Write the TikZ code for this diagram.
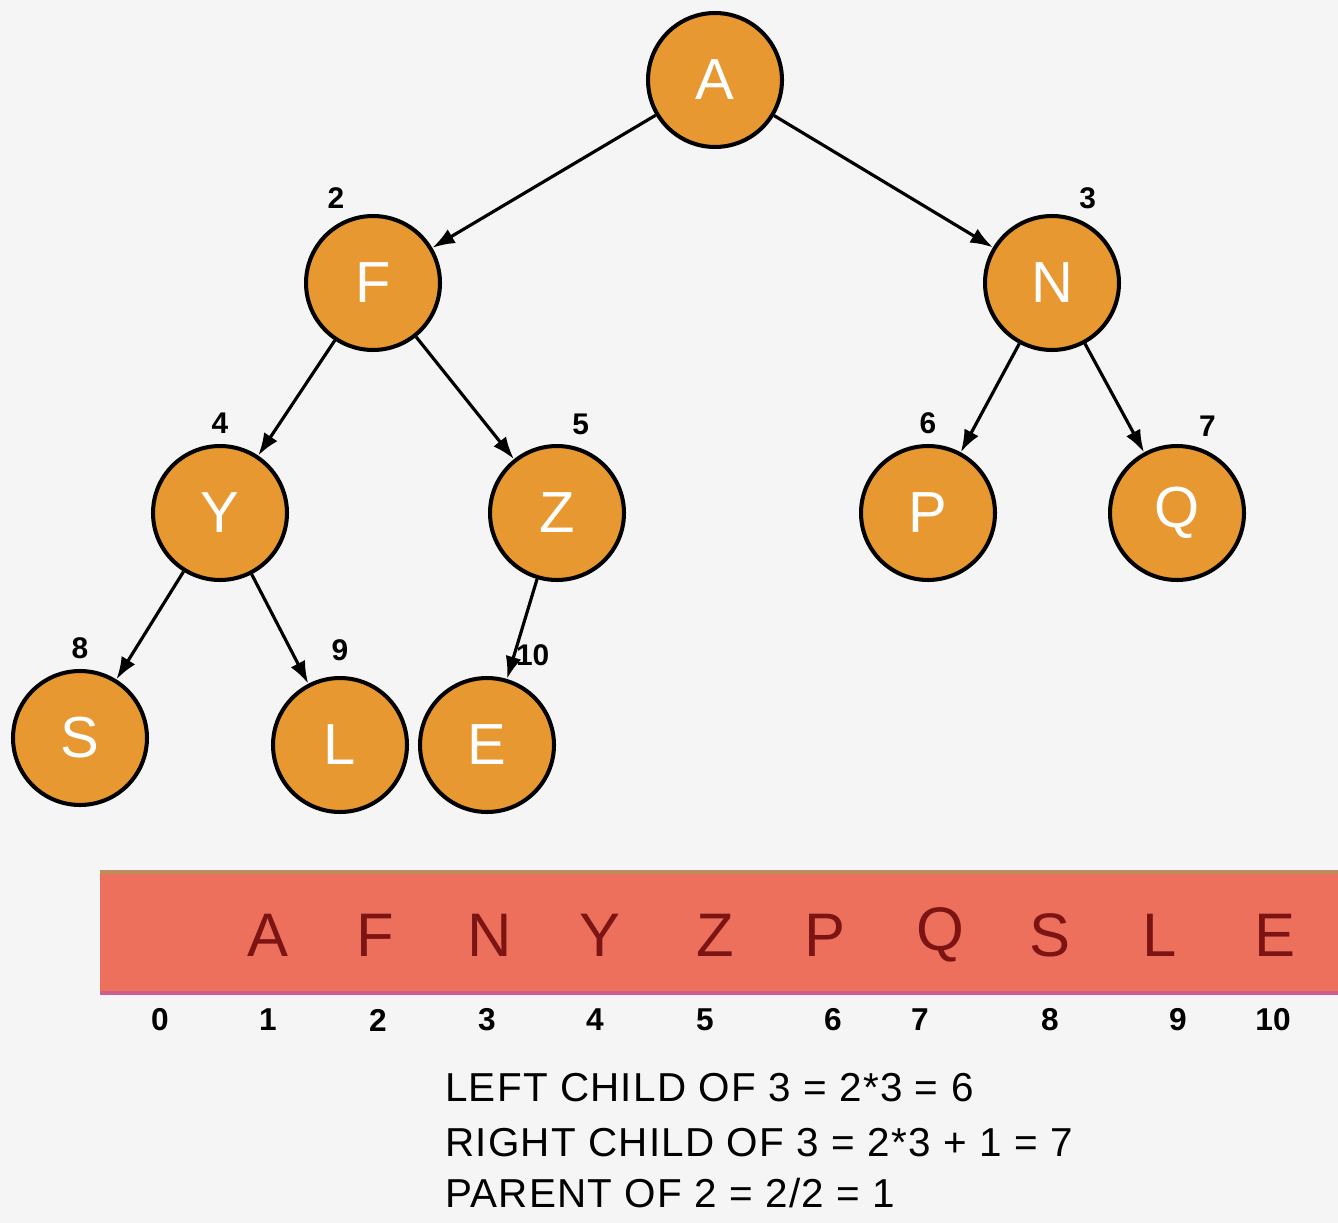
\documentclass[tikz,border=0pt]{standalone}
\usepackage{fontspec}
\setmainfont{Liberation Sans}
\newfontfamily\regelfont[LetterSpace=3]{Liberation Sans}
\usetikzlibrary{arrows.meta,positioning}

\definecolor{bund}{RGB}{245,245,245}
\definecolor{kugle}{RGB}{232,152,48}
\definecolor{balk}{RGB}{236,112,92}
\definecolor{balktop}{RGB}{190,140,95}
\definecolor{balkbund}{RGB}{205,95,140}
\definecolor{bogstav}{RGB}{125,20,20}

\begin{document}
\begin{tikzpicture}[
    x=0.02cm, y=-0.02cm,
    %framed,
    knude/.style={circle, draw=black, line width=2.3pt, fill=kugle, minimum size=2.68cm, inner sep=0pt, text=white, font=\fontsize{33}{33}\selectfont},
    pil/.style={line width=1.8pt, draw=black, -{Latex[length=4.5mm,width=3.2mm]}},
    indeks/.style={inner sep=0pt, font=\fontsize{17}{17}\selectfont\bfseries},
    felt/.style={inner sep=0pt, text=bogstav, font=\fontsize{35}{35}\selectfont},
    tal/.style={inner sep=0pt, font=\fontsize{18}{18}\selectfont\bfseries},
    regel/.style={anchor=west, inner sep=0pt, font=\regelfont\fontsize{23}{23}\selectfont}
    ]
    \useasboundingbox (0,0) rectangle (1338,1223);
    \fill[bund] (0,0) rectangle (1338,1223);

% the heap as a tree
\node[knude] (a) at (715,80) {A};
\node[knude, label={[indeks, label distance=0.2cm]111:2}] (f) at (373,283) {F};
\node[knude, label={[indeks, label distance=0.2cm]70:3}] (n) at (1052,283) {N};
\node[knude, label={[indeks, label distance=0.2cm]90:4}] (y) at (220,513) {Y};
\node[knude, label={[indeks, label distance=0.2cm]79:5}] (z) at (557,513) {Z};
\node[knude, label={[indeks, label distance=0.2cm]90:6}] (p) at (928,513) {P};
\node[knude, label={[indeks, label distance=0.2cm]74:7}] (q) at (1177,513) {Q};
\node[knude, label={[indeks, label distance=0.2cm]90:8}] (s) at (80,738) {S};
\node[knude, label={[indeks, label distance=0.3cm]90:9}] (l) at (340,745) {L};
\node[knude, label={[indeks, label distance=0.3cm]70:10}] (e) at (487,745) {E};

\draw[pil] (a) -- (f);
\draw[pil] (a) -- (n);
\draw[pil] (f) -- (y);
\draw[pil] (f) -- (z);
\draw[pil] (n) -- (p);
\draw[pil] (n) -- (q);
\draw[pil] (y) -- (s);
\draw[pil] (y) -- (l);
\draw[pil] (z) -- (e);

% the same heap as an array
\fill[balk] (100,872) rectangle (1338,995);
\draw[balktop, line width=2pt] (100,872) -- (1338,872);
\draw[balkbund, line width=2.5pt] (100,993) -- (1338,993);

\node[felt] (f1) at (268,935) {A};
\node[felt] (f2) at (375,935) {F};
\node[felt] (f3) at (490,935) {N};
\node[felt] (f4) at (600,935) {Y};
\node[felt] (f5) at (715,935) {Z};
\node[felt] (f6) at (825,935) {P};
\node[felt] (f7) at (940,935) {Q};
\node[felt] (f8) at (1050,935) {S};
\node[felt] (f9) at (1160,935) {L};
\node[felt] (f10) at (1275,935) {E};

\node[tal] (t0) at (160,1020) {0};
\node[tal] (t1) at (268,1020) {1};
\node[tal] (t2) at (378,1020) {2};
\node[tal] (t3) at (487,1020) {3};
\node[tal] (t4) at (595,1020) {4};
\node[tal] (t5) at (705,1020) {5};
\node[tal] (t6) at (833,1020) {6};
\node[tal] (t7) at (920,1020) {7};
\node[tal] (t8) at (1050,1020) {8};
\node[tal] (t9) at (1178,1020) {9};
\node[tal] (t10) at (1273,1020) {10};

\node[regel] (r1) at (445,1088) {LEFT CHILD OF 3 = 2*3 = 6};
\node[regel] (r2) at (445,1143) {RIGHT CHILD OF 3 = 2*3 + 1 = 7};
\node[regel] (r3) at (445,1193) {PARENT OF 2 = 2/2 = 1};
\end{tikzpicture}
\end{document}
